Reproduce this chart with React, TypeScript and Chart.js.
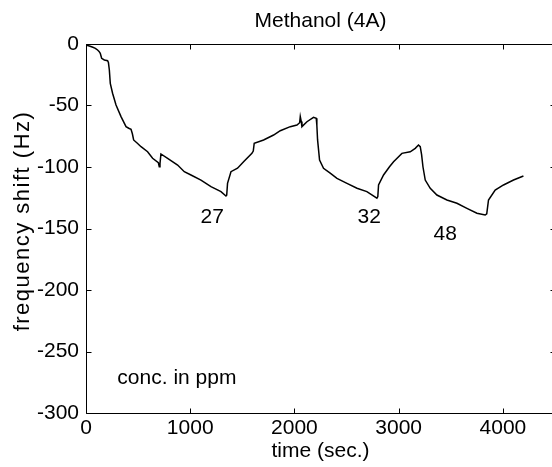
import React, { useEffect, useRef } from "react";
import { Chart, registerables } from "chart.js";

Chart.register(...registerables);

// ---- data ----
const timeSec = [
  0, 15, 32, 60, 90, 111, 125, 137, 150, 176, 207, 215, 224, 233, 255, 288, 336, 384,
  410, 432, 445, 457, 490, 528, 591, 639, 694, 703, 710, 719, 783, 879, 943, 1007, 1103,
  1199, 1295, 1343, 1350, 1358, 1391, 1454, 1512, 1592, 1605, 1614, 1704, 1800, 1864,
  1960, 2024, 2050, 2056, 2065, 2072, 2120, 2183, 2209, 2215, 2222, 2241, 2279, 2343,
  2408, 2504, 2600, 2695, 2791, 2800, 2807, 2855, 2912, 2951, 3031, 3111, 3159, 3190,
  3207, 3220, 3233, 3255, 3303, 3367, 3463, 3559, 3655, 3751, 3830, 3845, 3862, 3926,
  4006, 4102, 4197
];
const freqShiftHz = [
  -0.8, -1.2, -1.6, -2.5, -3.5, -4.9, -6, -7.6, -11.6, -13, -13.6, -15, -21.1, -32, -40,
  -49.6, -59, -67.2, -68.5, -69.3, -73, -78, -80.5, -83.5, -87.6, -92.9, -96.5, -99.8,
  -97, -89.4, -92.9, -98.4, -103.8, -106.5, -110.6, -116, -120, -123.6, -123, -113.3,
  -103.8, -101, -95.7, -88.9, -87, -80.7, -78, -74, -70.5, -67.2, -65.9, -64, -59.1,
  -63, -67.2, -63.2, -59.6, -60.4, -66, -78, -94.3, -101, -105, -109.2, -113.3, -117.3,
  -120, -125.4, -124, -114.6, -106.5, -99.8, -95.7, -88.9, -87.6, -84.8, -82.1, -83.5,
  -90, -99.8, -110.6, -117.3, -122.8, -126.8, -129.5, -133.6, -137.6, -139, -138,
  -126.8, -118.7, -114.6, -110.6, -107.3
];
const xTickValues = [0, 1000, 2000, 3000, 4000];
const yTickValues = [0, -50, -100, -150, -200, -250, -300];
const concLabels = ["27", "32", "48"];
const concLabelTimes = [1211, 2718, 3446];
const concLabelShifts = [-140.6, -140.6, -154.5];

const titleText = "Methanol (4A)";
const xLabelText = "time (sec.)";
const yLabelText = "frequency shift (Hz)";
const noteText = "conc. in ppm";

const FONT_FAMILY = '"Liberation Sans", Arial, Helvetica, sans-serif';
const FONT_SIZE = 21;

const framePlugin = {
  id: "matlabFrame",
  afterDraw(chart: any) {
    const { ctx, chartArea: a, scales } = chart;
    const xs = scales.x;
    const ys = scales.y;
    const L = Math.round(a.left) + 0.5;
    const R = Math.round(a.right) + 0.5;
    const T = Math.round(a.top) + 0.5;
    const B = Math.round(a.bottom) + 0.5;
    const tl = 5;
    ctx.save();
    ctx.strokeStyle = "#000";
    ctx.lineWidth = 1;
    ctx.beginPath();
    ctx.rect(L, T, R - L, B - T);
    for (const v of xTickValues) {
      const px = Math.round(xs.getPixelForValue(v)) + 0.5;
      ctx.moveTo(px, B);
      ctx.lineTo(px, B - tl);
      ctx.moveTo(px, T);
      ctx.lineTo(px, T + tl);
    }
    for (const v of yTickValues) {
      const py = Math.round(ys.getPixelForValue(v)) + 0.5;
      ctx.moveTo(L, py);
      ctx.lineTo(L + tl, py);
      ctx.moveTo(R, py);
      ctx.lineTo(R - tl, py);
    }
    ctx.stroke();

    ctx.fillStyle = "#000";
    ctx.font = `${FONT_SIZE}px ${FONT_FAMILY}`;
    ctx.textBaseline = "middle";
    ctx.textAlign = "center";
    const cx = (a.left + a.right) / 2;
    ctx.fillText(titleText, cx, 21);
    ctx.fillText(xLabelText, cx, 451);

    concLabels.forEach((t, i) => {
      ctx.fillText(
        t,
        xs.getPixelForValue(concLabelTimes[i]),
        ys.getPixelForValue(concLabelShifts[i])
      );
    });

    ctx.textAlign = "left";
    ctx.fillText(noteText, xs.getPixelForValue(301), ys.getPixelForValue(-271.5));

    ctx.save();
    ctx.translate(23, 221);
    ctx.rotate(-Math.PI / 2);
    ctx.textAlign = "center";
    ctx.font = `22px ${FONT_FAMILY}`;
    (ctx as any).letterSpacing = "1.5px";
    ctx.fillText(yLabelText, 0, 0);
    ctx.restore();

    ctx.restore();
  },
};

export default function App() {
  const canvasRef = useRef<HTMLCanvasElement | null>(null);

  useEffect(() => {
    document.body.style.margin = "0";
    const canvas = canvasRef.current;
    if (!canvas) return;
    const points = timeSec.map((t, i) => ({ x: t, y: freqShiftHz[i] }));
    const chart = new Chart(canvas, {
      type: "line",
      data: {
        datasets: [
          {
            data: points,
            borderColor: "#000",
            borderWidth: 1.5,
            pointRadius: 0,
            tension: 0,
            fill: false,
          },
        ],
      },
      options: {
        responsive: false,
        animation: false,
        devicePixelRatio: 1,
        parsing: false as any,
        layout: { padding: { left: 0, right: 7, top: 44, bottom: 0 } },
        plugins: {
          legend: { display: false },
          title: { display: false },
          tooltip: { enabled: false },
        },
        scales: {
          x: {
            type: "linear",
            min: 0,
            max: 4500,
            grid: { display: false, drawTicks: false },
            border: { display: false },
            afterBuildTicks: (s: any) => {
              s.ticks = xTickValues.map((v) => ({ value: v }));
            },
            afterFit: (s: any) => {
              s.height = 54;
            },
            ticks: {
              color: "#000",
              padding: 3,
              maxRotation: 0,
              callback: (v: any) => String(v),
              font: { family: FONT_FAMILY, size: FONT_SIZE },
            },
          },
          y: {
            type: "linear",
            min: -300,
            max: 0,
            grid: { display: false, drawTicks: false },
            border: { display: false },
            afterBuildTicks: (s: any) => {
              s.ticks = yTickValues.map((v) => ({ value: v }));
            },
            afterFit: (s: any) => {
              s.width = 86;
            },
            ticks: {
              color: "#000",
              padding: 7,
              callback: (v: any) => String(v),
              font: { family: FONT_FAMILY, size: FONT_SIZE },
            },
          },
        },
      },
      plugins: [framePlugin],
    });
    return () => chart.destroy();
  }, []);

  return (
    <div
      style={{
        position: "absolute",
        left: 0,
        top: 0,
        width: 552,
        height: 467,
        overflow: "hidden",
        background: "#fff",
      }}
    >
      <canvas ref={canvasRef} width={562} height={467} style={{ display: "block" }} />
    </div>
  );
}
